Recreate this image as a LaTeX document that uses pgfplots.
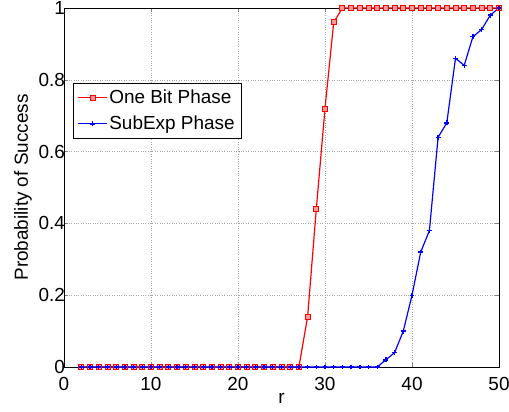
\documentclass[border=0pt]{standalone}
\usepackage{pgfplots}
\pgfplotsset{compat=1.18}
\usepackage{fontspec}
\setmainfont{Liberation Sans}
\begin{document}
\begin{tikzpicture}
\begin{axis}[
  name=ax,
  scale only axis,
  width=435bp, height=359bp,
  xmin=0, xmax=50, ymin=0, ymax=1,
  xtick={0,10,20,30,40,50},
  ytick={0,0.2,0.4,0.6,0.8,1},
  yticklabels={0,0.2,0.4,0.6,0.8,1},
  /pgf/number format/assume math mode=true,
  tick label style={font=\fontsize{19}{22}\selectfont},
  label style={font=\fontsize{19}{22}\selectfont},
  yticklabel style={xshift=4.5pt},
  xticklabel style={yshift=-6.5pt},
  xlabel={r},
  ylabel={Probability of Success},
  xlabel style={yshift=4pt},
  ylabel style={yshift=0pt},
  tick align=inside,
  major tick length=4pt,
  grid=major,
  grid style={dotted, gray!70},
  axis line style={black},
  legend style={at={(0.021,0.79)}, anchor=north west, font=\fontsize{19}{22}\selectfont, draw=black, inner xsep=4.5pt, inner ysep=4.5pt, row sep=7pt},
  legend cell align=left,
  legend image code/.code={\draw[mark repeat=2,mark phase=2,#1] plot coordinates {(0cm,0cm) (0.5cm,0cm) (1cm,0cm)};},
]
\addplot[red, line width=1.2pt, mark=square*, mark size=2.5pt, mark options={solid, fill=red!40, draw=red, line width=0.9pt}] coordinates {
(2,0)(3,0)(4,0)(5,0)(6,0)(7,0)(8,0)(9,0)(10,0)(11,0)(12,0)(13,0)(14,0)(15,0)(16,0)(17,0)(18,0)(19,0)(20,0)(21,0)(22,0)(23,0)(24,0)(25,0)(26,0)(27,0)
(28,0.14)(29,0.44)(30,0.72)(31,0.96)
(32,1)(33,1)(34,1)(35,1)(36,1)(37,1)(38,1)(39,1)(40,1)(41,1)(42,1)(43,1)(44,1)(45,1)(46,1)(47,1)(48,1)(49,1)(50,1)
};
\addlegendentry{One Bit Phase}
\addplot[blue, line width=1.2pt, mark=+, mark size=2.5pt, mark options={solid, blue, line width=1.4pt}] coordinates {
(2,0)(3,0)(4,0)(5,0)(6,0)(7,0)(8,0)(9,0)(10,0)(11,0)(12,0)(13,0)(14,0)(15,0)(16,0)(17,0)(18,0)(19,0)(20,0)(21,0)(22,0)(23,0)(24,0)(25,0)(26,0)(27,0)(28,0)(29,0)(30,0)(31,0)(32,0)(33,0)(34,0)(35,0)(36,0)
(37,0.02)(38,0.04)(39,0.10)(40,0.20)(41,0.32)(42,0.38)(43,0.64)(44,0.68)(45,0.86)(46,0.84)(47,0.92)(48,0.94)(49,0.98)(50,1.0)
};
\addlegendentry{SubExp Phase}
\end{axis}
\pgfresetboundingbox
\useasboundingbox ([xshift=-64bp,yshift=-45bp]ax.south west) rectangle ([xshift=10bp,yshift=8bp]ax.north east);
\end{tikzpicture}
\end{document}
